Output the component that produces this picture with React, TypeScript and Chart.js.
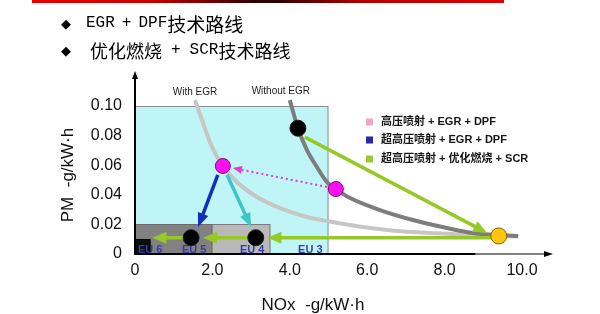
import React, { useEffect, useRef } from 'react';
import { Chart, registerables } from 'chart.js';

Chart.register(...registerables);

// ---------- data ----------
const xTickValues = [0, 2, 4, 6, 8, 10];
const yTickValues = [0, 0.02, 0.04, 0.06, 0.08, 0.1];

const euNames = ['EU 3', 'EU 4', 'EU 5', 'EU 6'];
const euNOxLimit = [5.0, 3.5, 2.0, 0.4];
const euPMLimit = [0.1, 0.02, 0.02, 0.01];

const withEgrNOx = [1.55, 1.76, 1.99, 2.27, 2.66, 3.15, 3.75, 4.44, 4.96, 5.56, 5.89, 6.77, 7.62, 8.66, 9.9];
const withEgrPM = [0.104, 0.0885, 0.0723, 0.0595, 0.048, 0.0385, 0.031, 0.025, 0.0223, 0.0196, 0.0182, 0.0155, 0.0142, 0.0128, 0.0118];

const withoutEgrNOx = [4.0, 4.21, 4.44, 4.7, 4.96, 5.19, 5.56, 6.33, 7.18, 8.06, 8.73, 9.9];
const withoutEgrPM = [0.104, 0.085, 0.0703, 0.0588, 0.0486, 0.0439, 0.0378, 0.0297, 0.023, 0.0176, 0.0142, 0.0122];

const blackDotNOx = [4.21, 1.45, 3.12];
const blackDotPM = [0.085, 0.011, 0.011];
const magentaDotNOx = [2.27, 5.19];
const magentaDotPM = [0.0595, 0.0439];
const yellowDotNOx = [9.4];
const yellowDotPM = [0.0122];

const arrowFromNOx = [4.96, 2.14, 2.38, 4.39, 9.2, 2.9, 1.25];
const arrowFromPM = [0.0453, 0.0534, 0.0534, 0.079, 0.011, 0.011, 0.011];
const arrowToNOx = [2.53, 1.63, 3.0, 9.1, 3.42, 1.76, 0.45];
const arrowToPM = [0.0581, 0.0182, 0.0182, 0.0142, 0.011, 0.011, 0.011];

const curveNames = ['With EGR', 'Without EGR'];
const legendLabels = ['高压喷射 + EGR + DPF', '超高压喷射 + EGR + DPF', '超高压喷射 + 优化燃烧 + SCR'];
const xTitle = 'NOx  -g/kW·h';
const yTitle = 'PM  -g/kW·h';

// ---------- styles ----------
const euFill = ['#c0f5f7', '#b9b9b9', '#818181', '#0c0c0c'];
const euBorder = ['#8c8c8c', '#7a7a7a', '#6a6a6a', '#000000'];
const arrowStyle = [
  { color: '#e23ccf', width: 2, dash: [2, 3], hl: 9, hw: 8 },
  { color: '#1530b8', width: 3.5, dash: [], hl: 14, hw: 11 },
  { color: '#3cc6c4', width: 3.5, dash: [], hl: 14, hw: 11 },
  { color: '#97c926', width: 3.5, dash: [], hl: 14, hw: 12 },
  { color: '#97c926', width: 3.5, dash: [], hl: 14, hw: 12 },
  { color: '#97c926', width: 3.5, dash: [], hl: 14, hw: 12 },
  { color: '#97c926', width: 3.5, dash: [], hl: 14, hw: 12 },
];
const legendColors = ['#f2a6c6', '#2a2aa0', '#98c935'];
const SANS = '"Liberation Sans", Arial, "Noto Sans CJK SC", sans-serif';

function pts(xs: number[], ys: number[]) {
  return xs.map((x, i) => ({ x, y: ys[i] }));
}

function drawArrow(ctx: CanvasRenderingContext2D, x1: number, y1: number, x2: number, y2: number, s: any) {
  const dx = x2 - x1, dy = y2 - y1;
  const len = Math.hypot(dx, dy);
  const ux = dx / len, uy = dy / len;
  const bx = x2 - ux * s.hl, by = y2 - uy * s.hl;
  ctx.save();
  ctx.strokeStyle = s.color;
  ctx.lineWidth = s.width;
  ctx.setLineDash(s.dash);
  ctx.beginPath();
  ctx.moveTo(x1, y1);
  ctx.lineTo(bx + ux * 1.5, by + uy * 1.5);
  ctx.stroke();
  ctx.setLineDash([]);
  ctx.fillStyle = s.color;
  ctx.beginPath();
  ctx.moveTo(x2, y2);
  ctx.lineTo(bx - (uy * s.hw) / 2, by + (ux * s.hw) / 2);
  ctx.lineTo(bx + (uy * s.hw) / 2, by - (ux * s.hw) / 2);
  ctx.closePath();
  ctx.fill();
  ctx.restore();
}

const decorPlugin = {
  id: 'decor',
  beforeDatasetsDraw(chart: any) {
    const { ctx, chartArea } = chart;
    const xs = chart.scales.x, ys = chart.scales.y;
    const x0 = xs.getPixelForValue(0), y0 = ys.getPixelForValue(0);
    // EU limit boxes
    for (let i = 0; i < euNames.length; i++) {
      const r = xs.getPixelForValue(euNOxLimit[i]);
      const t = ys.getPixelForValue(euPMLimit[i]);
      ctx.save();
      ctx.fillStyle = euFill[i];
      ctx.fillRect(x0, t, r - x0, y0 - t);
      ctx.strokeStyle = euBorder[i];
      ctx.lineWidth = 1;
      ctx.strokeRect(x0 + 0.5, Math.round(t) + 0.5, r - x0 - 1, y0 - Math.round(t));
      ctx.restore();
    }
    for (let i = 0; i < euNames.length; i++) {
      const r = xs.getPixelForValue(euNOxLimit[i]);
      ctx.save();
      ctx.font = 'bold 11px ' + SANS;
      ctx.fillStyle = '#3a3aa8';
      ctx.textBaseline = 'alphabetic';
      const w = ctx.measureText(euNames[i]).width;
      const lx = Math.max(r - 6 - w, x0 + 3);
      ctx.fillText(euNames[i], lx, y0 - 1);
      ctx.restore();
    }
    // axes with arrows
    ctx.save();
    ctx.strokeStyle = '#000';
    ctx.fillStyle = '#000';
    ctx.lineWidth = 2;
    ctx.beginPath();
    ctx.moveTo(x0, y0 + 1);
    ctx.lineTo(x0, chartArea.top + 4);
    ctx.stroke();
    ctx.beginPath();
    ctx.moveTo(x0 - 3, chartArea.top + 7);
    ctx.lineTo(x0, chartArea.top - 1);
    ctx.lineTo(x0 + 3, chartArea.top + 7);
    ctx.closePath();
    ctx.fill();
    ctx.beginPath();
    ctx.moveTo(x0 - 1, y0);
    ctx.lineTo(xs.getPixelForValue(8.8), y0);
    ctx.stroke();
    ctx.lineWidth = 1;
    ctx.beginPath();
    ctx.moveTo(xs.getPixelForValue(8.8), y0);
    ctx.lineTo(chartArea.right - 4, y0);
    ctx.stroke();
    ctx.beginPath();
    ctx.moveTo(chartArea.right - 8, y0 - 3);
    ctx.lineTo(chartArea.right + 1, y0);
    ctx.lineTo(chartArea.right - 8, y0 + 3);
    ctx.closePath();
    ctx.fill();
    ctx.restore();
  },
  beforeDatasetDraw(chart: any, args: any) {
    if (args.index !== 2) return;
    const { ctx } = chart;
    const xs = chart.scales.x, ys = chart.scales.y;
    for (let i = 0; i < arrowFromNOx.length; i++) {
      drawArrow(
        ctx,
        xs.getPixelForValue(arrowFromNOx[i]),
        ys.getPixelForValue(arrowFromPM[i]),
        xs.getPixelForValue(arrowToNOx[i]),
        ys.getPixelForValue(arrowToPM[i]),
        arrowStyle[i]
      );
    }
  },
  afterDraw(chart: any) {
    const { ctx } = chart;
    const xs = chart.scales.x, ys = chart.scales.y;
    // curve names
    ctx.save();
    ctx.font = '10px ' + SANS;
    ctx.fillStyle = '#222';
    ctx.textAlign = 'center';
    ctx.textBaseline = 'middle';
    ctx.fillText(curveNames[0], xs.getPixelForValue(withEgrNOx[0]), ys.getPixelForValue(withEgrPM[0]) - 8);
    ctx.fillText(curveNames[1], xs.getPixelForValue(withoutEgrNOx[0]) - 9, ys.getPixelForValue(withoutEgrPM[0]) - 9);
    ctx.restore();
    // axis titles
    ctx.save();
    ctx.font = '17px ' + SANS;
    ctx.fillStyle = '#111';
    ctx.textAlign = 'center';
    ctx.textBaseline = 'middle';
    ctx.fillText(xTitle, 313, 305);
    ctx.translate(68, 175);
    ctx.rotate(-Math.PI / 2);
    ctx.fillText(yTitle, 0, 0);
    ctx.restore();
    // legend
    ctx.save();
    ctx.font = 'bold 11px ' + SANS;
    ctx.textBaseline = 'middle';
    const rowY = [122, 140, 159];
    for (let i = 0; i < legendLabels.length; i++) {
      ctx.fillStyle = legendColors[i];
      ctx.fillRect(366, rowY[i] - 3.5, 7, 7);
      ctx.fillStyle = '#151515';
      ctx.fillText(legendLabels[i], 381, rowY[i]);
    }
    ctx.restore();
  },
};

export default function App() {
  const ref = useRef<HTMLCanvasElement>(null);
  useEffect(() => {
    const chart = new Chart(ref.current as HTMLCanvasElement, {
      type: 'scatter',
      data: {
        datasets: [
          {
            label: 'black',
            data: pts(blackDotNOx, blackDotPM),
            pointRadius: 8,
            pointBackgroundColor: '#000',
            pointBorderColor: '#222',
            pointBorderWidth: 1,
          },
          {
            label: 'magenta',
            data: pts(magentaDotNOx, magentaDotPM),
            pointRadius: 7.5,
            pointBackgroundColor: '#ff10f0',
            pointBorderColor: '#7a1070',
            pointBorderWidth: 1,
          },
          {
            label: 'yellow',
            data: pts(yellowDotNOx, yellowDotPM),
            pointRadius: 8,
            pointBackgroundColor: '#ffc40c',
            pointBorderColor: '#8a6000',
            pointBorderWidth: 1,
          },
          {
            type: 'line',
            label: 'Without EGR',
            data: pts(withoutEgrNOx, withoutEgrPM),
            showLine: true,
            borderColor: '#7d7d7d',
            borderWidth: 4,
            pointRadius: 0,
            cubicInterpolationMode: 'monotone',
            fill: false,
          } as any,
          {
            type: 'line',
            label: 'With EGR',
            data: pts(withEgrNOx, withEgrPM),
            showLine: true,
            borderColor: '#c6c6c6',
            borderWidth: 4,
            pointRadius: 0,
            cubicInterpolationMode: 'monotone',
            fill: false,
          } as any,
        ],
      },
      options: {
        animation: false,
        responsive: false,
        maintainAspectRatio: false,
        devicePixelRatio: 1,
        layout: { padding: { left: 0, top: 72, right: 48, bottom: 0 } },
        plugins: { legend: { display: false }, tooltip: { enabled: false } },
        scales: {
          x: {
            type: 'linear',
            min: 0,
            max: 10.775,
            grid: { display: false, drawTicks: false },
            border: { display: false },
            afterBuildTicks: (s: any) => {
              s.ticks = xTickValues.map((v) => ({ value: v }));
            },
            afterFit: (s: any) => {
              s.height = 60;
            },
            ticks: {
              autoSkip: false,
              maxRotation: 0,
              padding: 7,
              color: '#111',
              font: { size: 16, family: SANS },
              callback: (v: any) => (Number(v) === 0 ? '0' : Number(v).toFixed(1)),
            },
          },
          y: {
            type: 'linear',
            min: 0,
            max: 0.123,
            grid: { display: false, drawTicks: false },
            border: { display: false },
            afterBuildTicks: (s: any) => {
              s.ticks = yTickValues.map((v) => ({ value: v }));
            },
            afterFit: (s: any) => {
              s.width = 135;
            },
            ticks: {
              autoSkip: false,
              padding: 13,
              color: '#111',
              font: { size: 16, family: SANS },
              callback: (v: any) => (Number(v) === 0 ? '0' : Number(v).toFixed(2)),
            },
          },
        },
      },
      plugins: [decorPlugin],
    } as any);
    return () => chart.destroy();
  }, []);

  const cjk = '"Noto Sans CJK SC", sans-serif';
  const mono = '"Liberation Mono", "DejaVu Sans Mono", monospace';
  const lineStyle: React.CSSProperties = {
    position: 'absolute',
    left: 61,
    height: 24,
    display: 'flex',
    alignItems: 'center',
    whiteSpace: 'pre',
    color: '#000',
  };
  const latin: React.CSSProperties = { fontFamily: mono, fontSize: 16 };
  return (
    <div style={{ position: 'absolute', left: 0, top: 0, width: 600, height: 314, background: '#fff', overflow: 'hidden' }}>
      <canvas ref={ref} width={600} height={314} style={{ position: 'absolute', left: 0, top: 0, width: 600, height: 314 }} />
      <div
        style={{
          position: 'absolute',
          left: 32,
          top: 0,
          width: 472,
          height: 3,
          background: 'linear-gradient(to right, #e80000 0%, #c80000 25%, #300000 47%, #300000 52%, #b00000 70%, #e00000 100%)',
        }}
      />
      <div style={{ ...lineStyle, top: 11 }}>
        <span style={{ fontFamily: '"DejaVu Sans", sans-serif', fontSize: 13, width: 25 }}>◆</span>
        <span style={latin}>EGR</span>
        <span style={{ ...latin, marginLeft: 7 }}>+</span>
        <span style={{ ...latin, marginLeft: 7 }}>DPF</span>
        <span style={{ fontFamily: cjk, fontSize: 19 }}>技术路线</span>
      </div>
      <div style={{ ...lineStyle, top: 38 }}>
        <span style={{ fontFamily: '"DejaVu Sans", sans-serif', fontSize: 13, width: 29 }}>◆</span>
        <span style={{ fontFamily: cjk, fontSize: 18 }}>优化燃烧</span>
        <span style={{ ...latin, marginLeft: 9 }}>+</span>
        <span style={{ ...latin, marginLeft: 9 }}>SCR</span>
        <span style={{ fontFamily: cjk, fontSize: 18 }}>技术路线</span>
      </div>
    </div>
  );
}
